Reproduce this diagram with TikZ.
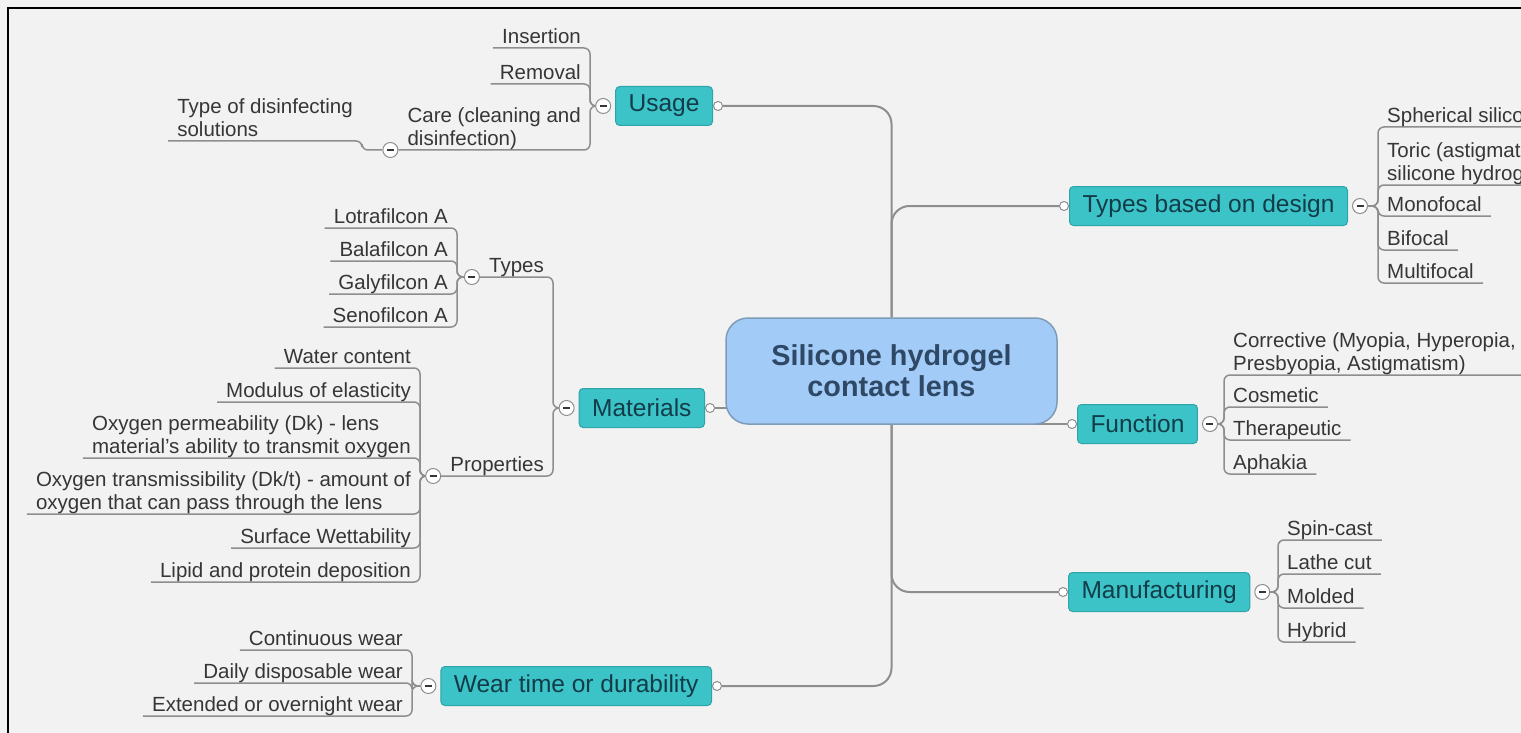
\documentclass[tikz,border=0pt]{standalone}
\usepackage{fontspec}
\setmainfont{Liberation Sans}
\usepackage{tikz}
\usetikzlibrary{positioning,backgrounds}
\definecolor{paper}{HTML}{F2F2F2}
\definecolor{hubfill}{HTML}{A2CCF7}
\definecolor{hubline}{HTML}{7E9CB8}
\definecolor{hubink}{HTML}{2E4866}
\definecolor{topicfill}{HTML}{3CC3C7}
\definecolor{topicline}{HTML}{2EA3A8}
\definecolor{topicink}{HTML}{123C48}
\definecolor{wire}{HTML}{8E8E8E}
\definecolor{leafink}{HTML}{363636}

\begin{document}
\begin{tikzpicture}[x=1pt,y=-1pt,
  hub/.style={rectangle,rounded corners=22pt,draw=hubline,line width=1.5pt,fill=hubfill,text=hubink,
    font=\fontsize{28.8}{31}\selectfont\bfseries,align=center,minimum width=331pt,minimum height=106pt},
  topic/.style={rectangle,rounded corners=4pt,draw=topicline,line width=1pt,fill=topicfill,text=topicink,
    font=\fontsize{24.5}{28}\selectfont,minimum height=39pt,inner xsep=13pt},
  leaf/.style={align=left,text=leafink,font=\fontsize{20.5}{23}\selectfont,inner xsep=9pt,inner ysep=0pt,
    execute at end node=\vphantom{g}},
  knob/.style={circle,draw=wire,line width=1pt,fill=white,minimum size=9pt,inner sep=0pt},
  fold/.style={circle,draw=wire,line width=1pt,fill=white,minimum size=15pt,inner sep=0pt,
    path picture={\draw[line width=1.4pt,leafink] ([xshift=-3.5pt]path picture bounding box.center)
      -- ([xshift=3.5pt]path picture bounding box.center);}},
  trunk/.style={draw=wire,line width=2pt,rounded corners=18pt},
  twig/.style={draw=wire,line width=1.5pt,rounded corners=6pt},
  toleft/.style={to path={-| (\tikztotarget.south east) -- (\tikztotarget.south west)}},
  toright/.style={to path={-| (\tikztotarget.south west) -- (\tikztotarget.south east)}}]
  \useasboundingbox (0,0) rectangle (1521,733);

  \node[hub] (hub) at (891.5,371) {Silicone hydrogel\\contact lens};

  \node[topic,anchor=east] (usage) at (713,106) {Usage};
  \node[topic,anchor=east] (materials) at (705,408) {Materials};
  \node[topic,anchor=east] (wear) at (712,686) {Wear time or durability};
  \node[topic,anchor=west] (design) at (1069,206) {Types based on design};
  \node[topic,anchor=west] (function) at (1077,424) {Function};
  \node[topic,anchor=west] (manufacturing) at (1068,592) {Manufacturing};

  \node[knob] (kUsage) [right=0pt of usage] {};
  \node[knob] (kMat) [right=0pt of materials] {};
  \node[knob] (kWear) [right=0pt of wear] {};
  \node[knob] (kDesign) [left=0pt of design] {};
  \node[knob] (kFunc) [left=0pt of function] {};
  \node[knob] (kMfg) [left=0pt of manufacturing] {};

  \node[fold] (fUsage) [left=4pt of usage] {};
  \node[fold] (fMat) [left=4pt of materials] {};
  \node[fold] (fWear) [left=4pt of wear] {};
  \node[fold] (fDesign) [right=4pt of design] {};
  \node[fold] (fFunc) [right=4pt of function] {};
  \node[fold] (fMfg) [right=4pt of manufacturing] {};

  \node[leaf,anchor=south east] (insertion) at (590,48) {Insertion};
  \node[leaf,anchor=south east] (removal) at (590,84) {Removal};
  \node[leaf,anchor=south east] (care) at (590,150) {Care (cleaning and\\disinfection)};
  \node[fold] (fCare) [left=0pt of care.south west] {};
  \node[leaf,anchor=south east] (disinf) at (362,141) {Type of disinfecting\\solutions};

  \node[leaf,anchor=south east] (types) at (553,277) {Types};
  \node[leaf,anchor=south east] (props) at (553,476) {Properties};
  \node[fold] (fTypes) [left=0pt of types.south west] {};
  \node[fold] (fProps) [left=0pt of props.south west] {};

  \node[leaf,anchor=south east] (lotra) at (457,228) {Lotrafilcon A};
  \node[leaf,anchor=south east] (bala) at (457,261) {Balafilcon A};
  \node[leaf,anchor=south east] (galy) at (457,294) {Galyfilcon A};
  \node[leaf,anchor=south east] (seno) at (457,327) {Senofilcon A};

  \node[leaf,anchor=south east] (water) at (420,368) {Water content};
  \node[leaf,anchor=south east] (modulus) at (420,402) {Modulus of elasticity};
  \node[leaf,anchor=south east] (perm) at (420,458) {Oxygen permeability (Dk) - lens\\material's ability to transmit oxygen};
  \node[leaf,anchor=south east] (trans) at (420,514) {Oxygen transmissibility (Dk/t) - amount of\\oxygen that can pass through the lens};
  \node[leaf,anchor=south east] (wett) at (420,548) {Surface Wettability};
  \node[leaf,anchor=south east] (lipid) at (420,582) {Lipid and protein deposition};

  \node[leaf,anchor=south east] (contin) at (412,650) {Continuous wear};
  \node[leaf,anchor=south east] (daily) at (412,683) {Daily disposable wear};
  \node[leaf,anchor=south east] (extended) at (412,716) {Extended or overnight wear};

  \node[leaf,anchor=south west] (spher) at (1378,127) {Spherical silico};
  \node[leaf,anchor=south west] (toric) at (1378,185) {Toric (astigmat\\silicone hydrog};
  \node[leaf,anchor=south west] (mono) at (1378,216) {Monofocal};
  \node[leaf,anchor=south west] (bifo) at (1378,250) {Bifocal};
  \node[leaf,anchor=south west] (multi) at (1378,283) {Multifocal};

  \node[leaf,anchor=south west] (correct) at (1224,375) {Corrective (Myopia, Hyperopia,\\Presbyopia, Astigmatism)};
  \node[leaf,anchor=south west] (cosm) at (1224,407) {Cosmetic};
  \node[leaf,anchor=south west] (thera) at (1224,440) {Therapeutic};
  \node[leaf,anchor=south west] (aphak) at (1224,474) {Aphakia};

  \node[leaf,anchor=south west] (spin) at (1278,540) {Spin-cast};
  \node[leaf,anchor=south west] (lathe) at (1278,574) {Lathe cut};
  \node[leaf,anchor=south west] (molded) at (1278,608) {Molded};
  \node[leaf,anchor=south west] (hybrid) at (1278,642) {Hybrid};

  \begin{scope}[on background layer]
    \fill[paper] (0,0) rectangle (1521,733);
    \draw[trunk] (kUsage.east) -| (hub.north);
    \draw[trunk] (kWear.east) -| (hub.south);
    \draw[trunk] (hub.north) |- (kDesign.west);
    \draw[trunk] (hub.south) |- (kMfg.west);
    \draw[trunk] (kMat.east) -- (kMat.east -| hub.center);
    \draw[trunk] (kFunc.west) -- (kFunc.west -| hub.center);
    \path[twig]
    (fUsage.west)
    edge[toleft] (insertion)
    edge[toleft] (removal)
    edge[toleft] (care)
    (fCare.west)
    edge[toleft] (disinf)
    (fMat.west)
    edge[toleft] (types)
    edge[toleft] (props)
    (fTypes.west)
    edge[toleft] (lotra)
    edge[toleft] (bala)
    edge[toleft] (galy)
    edge[toleft] (seno)
    (fProps.west)
    edge[toleft] (water)
    edge[toleft] (modulus)
    edge[toleft] (perm)
    edge[toleft] (trans)
    edge[toleft] (wett)
    edge[toleft] (lipid)
    (fWear.west)
    edge[toleft] (contin)
    edge[toleft] (daily)
    edge[toleft] (extended)
    (fDesign.east)
    edge[toright] (spher)
    edge[toright] (toric)
    edge[toright] (mono)
    edge[toright] (bifo)
    edge[toright] (multi)
    (fFunc.east)
    edge[toright] (correct)
    edge[toright] (cosm)
    edge[toright] (thera)
    edge[toright] (aphak)
    (fMfg.east)
    edge[toright] (spin)
    edge[toright] (lathe)
    edge[toright] (molded)
    edge[toright] (hybrid);
  \end{scope}

  \draw[line width=2pt] (8,733) -- (8,8) -- (1521,8);
\end{tikzpicture}
\end{document}
